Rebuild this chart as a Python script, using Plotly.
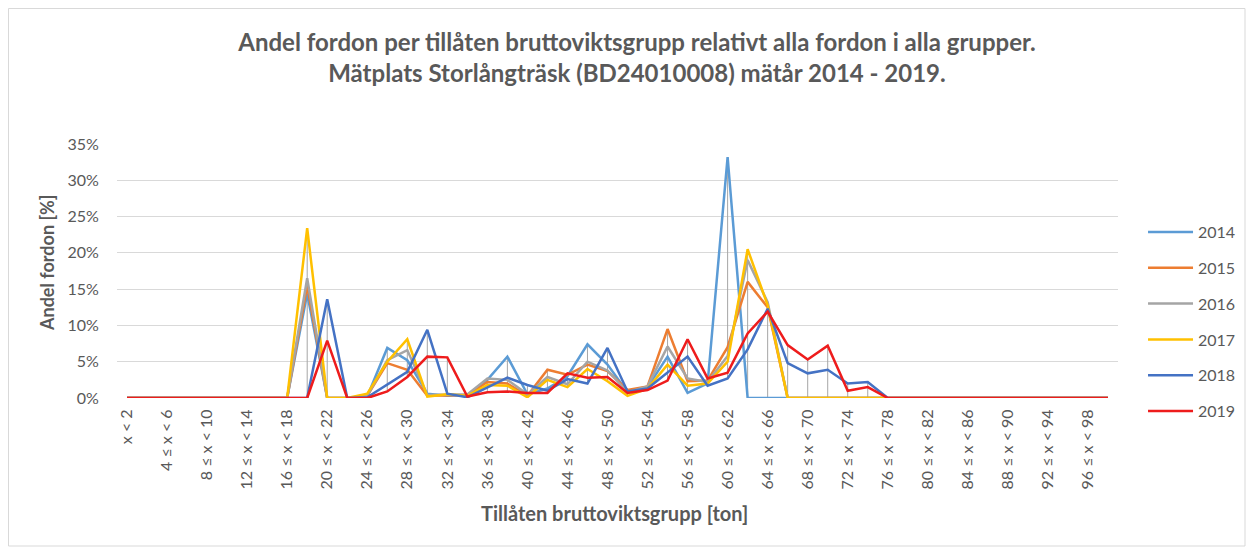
import plotly.graph_objects as go

# Categories: weight groups in tons
categories = ["x < 2"] + [f"{a} \u2264 x < {a + 2}" for a in range(2, 100, 2)]
tick_labels = categories[::2]

years = ["2014", "2015", "2016", "2017", "2018", "2019"]
colors = ["#5B9BD5", "#ED7D31", "#A5A5A5", "#FFC000", "#4472C4", "#EE1C1C"]

# values in percent, index 9 .. 38 (rest are zero)
z9 = [0.0] * 9
z_tail = [0.0] * 11

v2014 = z9 + [14.4, 0.0, 0.0, 0.2, 6.9, 5.2, 0.6, 0.3, 0.4, 2.5,
              5.7, 0.5, 1.3, 3.0, 7.4, 4.6, 0.8, 1.5, 5.7, 0.7,
              2.0, 33.2, 0.0, 0.0, 0.0, 0.0, 0.0, 0.0, 0.0, 0.0] + z_tail
v2015 = z9 + [15.5, 0.0, 0.0, 0.3, 4.8, 3.9, 0.3, 0.3, 0.4, 2.2,
              2.0, 0.3, 3.9, 3.2, 4.6, 3.7, 1.1, 1.6, 9.5, 2.3,
              2.4, 7.0, 16.0, 12.5, 0.0, 0.0, 0.0, 0.0, 0.0, 0.0] + z_tail
v2016 = z9 + [16.5, 0.0, 0.0, 0.3, 5.2, 6.6, 0.4, 0.4, 0.5, 2.7,
              2.5, 0.5, 2.9, 1.9, 5.0, 3.8, 0.8, 1.6, 7.1, 2.7,
              2.2, 5.8, 19.0, 13.2, 0.0, 0.0, 0.0, 0.0, 0.0, 0.0] + z_tail
v2017 = z9 + [23.4, 0.0, 0.0, 0.6, 5.0, 8.1, 0.2, 0.5, 0.3, 1.8,
              1.7, 0.1, 2.5, 1.5, 4.0, 2.3, 0.3, 1.3, 4.6, 1.7,
              2.0, 5.0, 20.5, 12.8, 0.0, 0.0, 0.0, 0.0, 0.0, 0.0] + z_tail
v2018 = z9 + [0.0, 13.6, 0.0, 0.1, 1.8, 3.6, 9.4, 0.6, 0.1, 1.5,
              2.8, 1.8, 1.0, 2.6, 2.0, 6.9, 0.9, 1.3, 3.5, 5.7,
              1.7, 2.7, 6.7, 12.3, 4.8, 3.4, 3.9, 2.0, 2.2, 0.0] + z_tail
v2019 = z9 + [0.0, 7.9, 0.0, 0.0, 0.9, 2.9, 5.7, 5.6, 0.2, 0.8,
              0.9, 0.7, 0.7, 3.4, 2.8, 2.9, 0.7, 1.1, 2.4, 8.1,
              2.7, 3.5, 8.9, 11.9, 7.3, 5.3, 7.2, 1.0, 1.5, 0.0] + z_tail

series = [v2014, v2015, v2016, v2017, v2018, v2019]

FONT = "Lato, 'Open Sans', sans-serif"
GREY = "#595959"

# page has an 8px body margin; work in figure coordinates
OFF = 8
W, H = 1254 - OFF, 550 - OFF
PL, PR = 117 - OFF, 1118 - OFF      # plot left/right (figure px)
PT, PB = 144 - OFF, 398 - OFF       # plot top/bottom (figure px)
PW, PH = PR - PL, PB - PT


def px(x):
    return (x - OFF - PL) / PW


def py(y):
    return (PB - (y - OFF)) / PH


fig = go.Figure()

# high-low lines (from min to max across series per category)
hx, hy = [], []
for i, c in enumerate(categories):
    vals = [s[i] for s in series]
    lo, hi = min(vals), max(vals)
    if hi > lo:
        hx += [c, c, None]
        hy += [lo, hi, None]
fig.add_trace(go.Scatter(x=hx, y=hy, mode="lines", showlegend=False,
                         line=dict(color="#A6A6A6", width=1), hoverinfo="skip"))

for yr, col, vals in zip(years, colors, series):
    fig.add_trace(go.Scatter(x=categories, y=vals, mode="lines", name=yr,
                             legendgroup=yr,
                             line=dict(color=col, width=2.5)))

fig.update_layout(
    width=W, height=H,
    paper_bgcolor="white", plot_bgcolor="white",
    margin=dict(l=PL, r=W - PR, t=PT, b=H - PB, autoexpand=False),
    font=dict(family=FONT, color=GREY, size=13),
    showlegend=True,
    legend=dict(x=1.025, xanchor="left", y=0.72, yanchor="top",
                font=dict(size=16, color=GREY), tracegroupgap=12,
                itemwidth=45, bgcolor="rgba(0,0,0,0)"),
    title=dict(text="Andel fordon per tillåten bruttoviktsgrupp relativt alla fordon i alla grupper.<br>Mätplats Storlångträsk (BD24010008) mätår 2014 - 2019.",
               x=(637 - OFF) / W, xanchor="center", y=1 - 43 / H, yanchor="top",
               font=dict(family=FONT, size=24, color=GREY, weight="bold")),
)

fig.update_xaxes(type="category", categoryorder="array", categoryarray=categories,
                 range=[-0.5, 49.5], tickmode="array", tickvals=tick_labels,
                 ticktext=tick_labels, tickangle=-90, showgrid=False,
                 tickfont=dict(size=16, color=GREY), ticks="outside", ticklen=4,
                 tickcolor="rgba(0,0,0,0)", showline=False, zeroline=False)
fig.update_yaxes(range=[0, 35], dtick=5, ticksuffix="%", showgrid=True,
                 gridcolor="#D9D9D9", gridwidth=1, zeroline=False, showline=False,
                 tickfont=dict(size=16, color=GREY), ticks="outside", ticklen=14,
                 tickcolor="rgba(0,0,0,0)")

fig.add_annotation(text="Andel fordon [%]", xref="paper", yref="paper",
                   x=px(47), y=py(263), textangle=-90,
                   showarrow=False, xanchor="center", yanchor="middle",
                   font=dict(family=FONT, size=18, color=GREY, weight="bold"))
fig.add_annotation(text="Tillåten bruttoviktsgrupp [ton]", xref="paper", yref="paper",
                   x=px(614), y=py(513),
                   showarrow=False, xanchor="center", yanchor="middle",
                   font=dict(family=FONT, size=20, color=GREY, weight="bold"))

fig.add_shape(type="rect", xref="paper", yref="paper",
              x0=px(8.5), x1=px(1245),
              y0=py(546), y1=py(8.5),
              line=dict(color="#D9D9D9", width=1), fillcolor="rgba(0,0,0,0)", layer="below")

fig.write_html("out.html")
